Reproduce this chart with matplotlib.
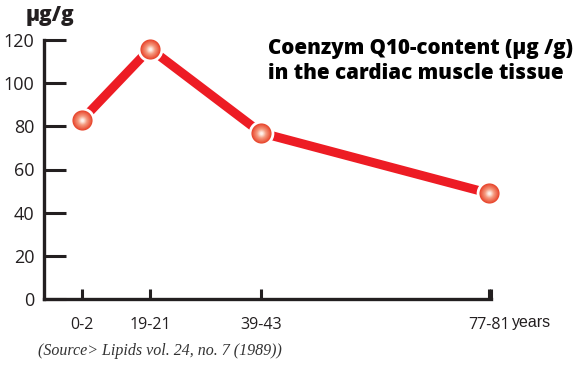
import matplotlib.pyplot as plt
import matplotlib.colors as mcolors
import numpy as np

age_groups = ['0-2', '19-21', '39-43', '77-81']
x_pos = [82, 150, 261, 489]
coq10 = [83, 116, 77, 49]
y_ticks = [0, 20, 40, 60, 80, 100, 120]

plt.rcParams['font.family'] = ['Open Sans', 'DejaVu Sans']

fig = plt.figure(figsize=(5.83, 3.68), dpi=100)
ax = fig.add_axes([44 / 583, 1 - 299 / 368, (491 - 44) / 583, (299 - 40) / 368])

# thick red line
ax.plot(x_pos, coq10, color='#ED1C24', linewidth=6.5, solid_capstyle='butt', zorder=2)

# shaded balls: white ring first, then layers from dark edge to light centre
ax.plot(x_pos, coq10, 'o', markersize=17.5, color='white', zorder=3, clip_on=False)
c_edge = np.array(mcolors.to_rgb('#E8452C'))
c_mid = np.array(mcolors.to_rgb('#F59A7E'))
c_centre = np.array(mcolors.to_rgb('#FFF1EA'))
steps = 14
for i in range(steps):
    t = i / (steps - 1)
    if t < 0.6:
        c = c_edge + (c_mid - c_edge) * (t / 0.6)
    else:
        c = c_mid + (c_centre - c_mid) * ((t - 0.6) / 0.4)
    ms = 14.5 * (1 - t) + 2.0 * t
    ax.plot(x_pos, coq10, 'o', markersize=ms, color=c, markeredgewidth=0,
            zorder=4 + i, clip_on=False)

ax.set_xlim(44, 491)
ax.set_ylim(0, 120)

for s in ['top', 'right']:
    ax.spines[s].set_visible(False)
for s in ['left', 'bottom']:
    ax.spines[s].set_linewidth(2.4)
    ax.spines[s].set_color('#231F20')
    ax.spines[s].set_capstyle('projecting')

ax.set_yticks(y_ticks)
ax.set_xticks(x_pos + [491])
ax.set_xticklabels(age_groups + [''])
ax.tick_params(axis='y', direction='in', length=16, width=2.2, color='#231F20',
               labelsize=13, pad=7, labelcolor='#231F20')
ax.tick_params(axis='x', direction='in', length=7, width=2.2, color='#231F20',
               labelsize=11.5, pad=13, labelcolor='#231F20')

fig.text(26 / 583, 1 - 16 / 368, 'µg/g', fontsize=15, fontweight='heavy',
         ha='left', va='center', color='#231F20')
fig.text(268 / 583, 1 - 61 / 368, 'Coenzym Q10-content (µg /g)\nin the cardiac muscle tissue',
         fontsize=14.8, fontweight='heavy', ha='left', va='center', color='black',
         linespacing=1.3)
fig.text(512 / 583, 1 - 322 / 368, 'years', fontsize=11.5, ha='left', va='center',
         color='#231F20', family=['Liberation Sans'])
fig.text(38 / 583, 1 - 351 / 368, '(Source> Lipids vol. 24, no. 7 (1989))',
         fontsize=11.5, style='italic', ha='left', va='center', color='#333333',
         family=['Liberation Serif'])

fig.savefig('out.png', dpi=100)
